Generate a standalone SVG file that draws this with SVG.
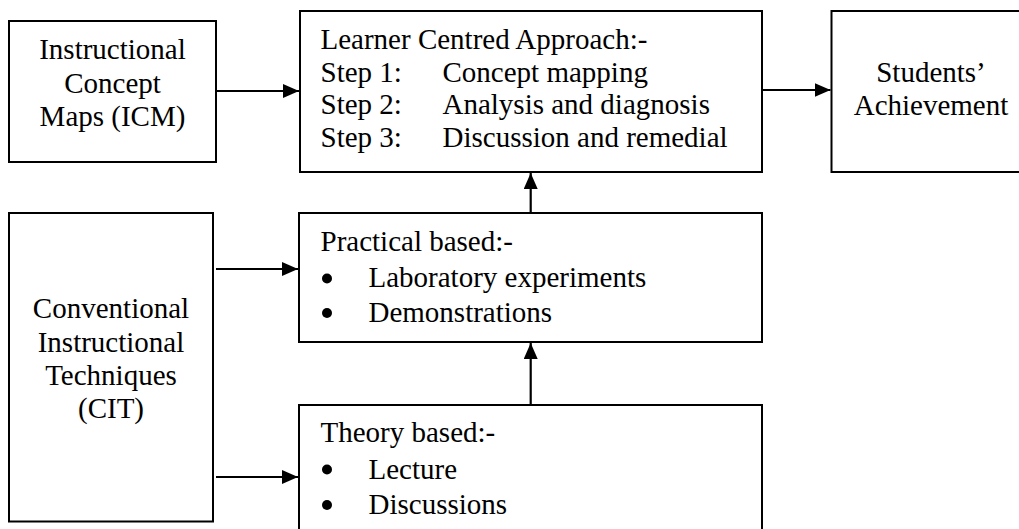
<svg xmlns="http://www.w3.org/2000/svg" width="1019" height="529" viewBox="0 0 1019 529">
<style>
.box{fill:#fff;stroke:#000;stroke-width:2}
.t{font-family:'Liberation Serif','DejaVu Serif',serif;font-size:29px;fill:#000}
.c{text-anchor:middle}
.ln{stroke:#000;stroke-width:2.2;fill:none}
</style>
<defs>
<marker id="ah" viewBox="0 0 16 14" refX="16" refY="7" markerWidth="16" markerHeight="14" markerUnits="userSpaceOnUse" orient="auto">
<path d="M0,0 L16,7 L0,14 Z" fill="#000"/>
</marker>
</defs>
<rect width="1019" height="529" fill="#fff"/>
<g id="icm">
<rect class="box" x="9" y="21" width="207" height="141"/>
<text class="t c" x="112.5" y="59">Instructional</text>
<text class="t c" x="112.5" y="92.5">Concept</text>
<text class="t c" x="112.5" y="126">Maps (ICM)</text>
</g>
<g id="lca">
<rect class="box" x="300" y="11" width="462" height="161"/>
<text class="t" x="320.5" y="48.5">Learner Centred Approach:-</text>
<text class="t" x="320.5" y="81.5">Step 1:</text>
<text class="t" x="442.5" y="81.5">Concept mapping</text>
<text class="t" x="320.5" y="114">Step 2:</text>
<text class="t" x="442.5" y="114">Analysis and diagnosis</text>
<text class="t" x="320.5" y="146.5">Step 3:</text>
<text class="t" x="442.5" y="146.5">Discussion and remedial</text>
</g>
<g id="sa">
<rect class="box" x="831.5" y="11" width="200" height="161"/>
<text class="t c" x="931" y="82">Students’</text>
<text class="t c" x="931" y="115">Achievement</text>
</g>
<g id="cit">
<rect class="box" x="9" y="213" width="204" height="308.5"/>
<text class="t c" x="111" y="318">Conventional</text>
<text class="t c" x="111" y="351.5">Instructional</text>
<text class="t c" x="111" y="385">Techniques</text>
<text class="t c" x="111" y="418">(CIT)</text>
</g>
<g id="practical">
<rect class="box" x="299" y="213" width="463" height="129"/>
<text class="t" x="320.5" y="251">Practical based:-</text>
<circle cx="327" cy="278.5" r="5"/>
<text class="t" x="368.5" y="287">Laboratory experiments</text>
<circle cx="327" cy="313" r="5"/>
<text class="t" x="368.5" y="322">Demonstrations</text>
</g>
<g id="theory">
<rect class="box" x="299" y="405" width="463" height="140"/>
<text class="t" x="320.5" y="442">Theory based:-</text>
<circle cx="327" cy="469.5" r="5"/>
<text class="t" x="368.5" y="478.5">Lecture</text>
<circle cx="327" cy="505" r="5"/>
<text class="t" x="368.5" y="514">Discussions</text>
</g>
<g id="connectors">
<line class="ln" x1="216" y1="91" x2="299" y2="91" marker-end="url(#ah)"/>
<line class="ln" x1="762" y1="90" x2="830.5" y2="90" marker-end="url(#ah)"/>
<line class="ln" x1="216" y1="269" x2="298" y2="269" marker-end="url(#ah)"/>
<line class="ln" x1="216" y1="477" x2="298" y2="477" marker-end="url(#ah)"/>
<line class="ln" x1="530.7" y1="212" x2="530.7" y2="173" marker-end="url(#ah)"/>
<line class="ln" x1="530.7" y1="404" x2="530.7" y2="343" marker-end="url(#ah)"/>
</g>
</svg>
